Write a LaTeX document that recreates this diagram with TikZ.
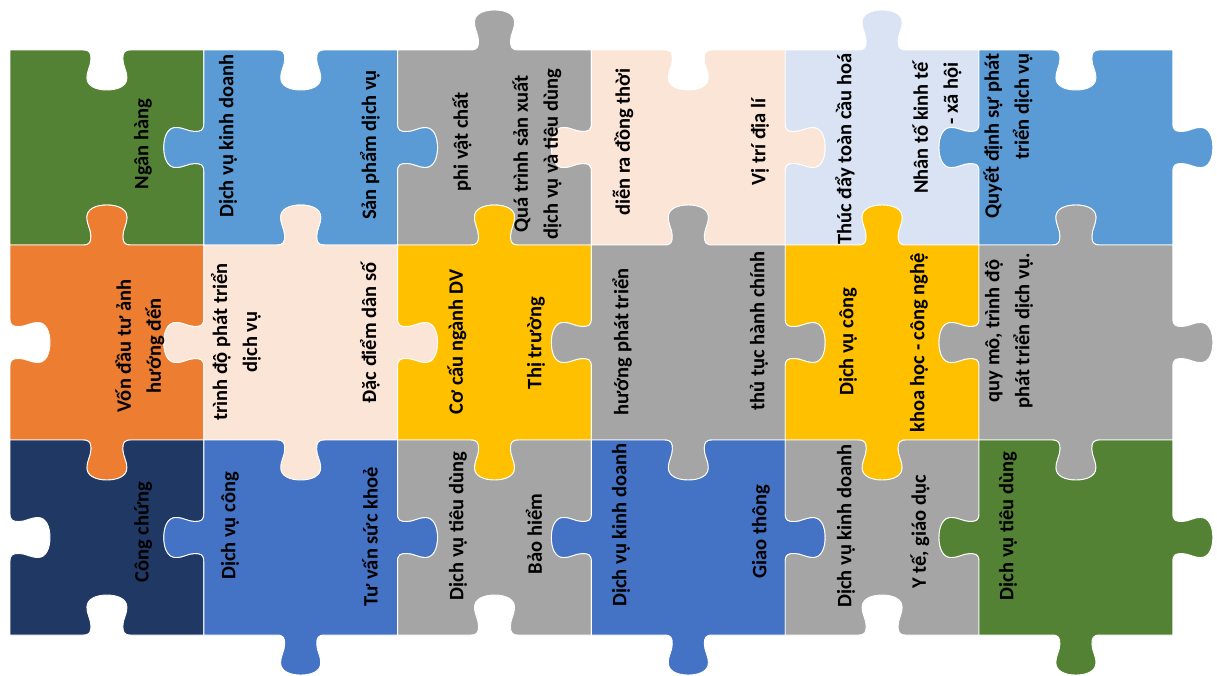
\documentclass[tikz,border=0pt]{standalone}
\usepackage{fontspec}
\setmainfont{Carlito}
\usepackage{tikz}
\usepackage{xcolor}
\definecolor{pzgreen}{HTML}{548235}
\definecolor{pzsky}{HTML}{5B9BD5}
\definecolor{pzgray}{HTML}{A5A5A5}
\definecolor{pzpeach}{HTML}{FBE5D6}
\definecolor{pzpale}{HTML}{DAE3F3}
\definecolor{pzorange}{HTML}{ED7D31}
\definecolor{pzgold}{HTML}{FFC000}
\definecolor{pznavy}{HTML}{203864}
\definecolor{pzblue}{HTML}{4472C4}

% one side of a piece: mid point, tangent, signed normal
\tikzset{
  tab/.style n args={6}{insert path={
    -- ({#1-24*#3},{#2-24*#4})
    .. controls ({#1-17*#3},{#2-17*#4}) and ({#1-16*#3+3*#5},{#2-16*#4+3*#6}) .. ({#1-16*#3+9*#5},{#2-16*#4+9*#6})
    .. controls ({#1-16*#3+16*#5},{#2-16*#4+16*#6}) and ({#1-20*#3+20*#5},{#2-20*#4+20*#6}) .. ({#1-20*#3+28*#5},{#2-20*#4+28*#6})
    .. controls ({#1-20*#3+36*#5},{#2-20*#4+36*#6}) and ({#1-11*#3+40*#5},{#2-11*#4+40*#6}) .. ({#1+40*#5},{#2+40*#6})
    .. controls ({#1+11*#3+40*#5},{#2+11*#4+40*#6}) and ({#1+20*#3+36*#5},{#2+20*#4+36*#6}) .. ({#1+20*#3+28*#5},{#2+20*#4+28*#6})
    .. controls ({#1+20*#3+20*#5},{#2+20*#4+20*#6}) and ({#1+16*#3+16*#5},{#2+16*#4+16*#6}) .. ({#1+16*#3+9*#5},{#2+16*#4+9*#6})
    .. controls ({#1+16*#3+3*#5},{#2+16*#4+3*#6}) and ({#1+17*#3},{#2+17*#4}) .. ({#1+24*#3},{#2+24*#4})
  }}
}

% \piece{colour}{column}{row}{top}{right}{bottom}{left}: 1 knob, -1 hole, 0 flat
\newcommand\piece[7]{%
  \pgfmathsetmacro\pcxa{10+193.8*(#2-1)}%
  \pgfmathsetmacro\pcxb{\pcxa+193.8}%
  \pgfmathsetmacro\pcxm{\pcxa+96.9}%
  \pgfmathsetmacro\pcya{50+195*(#3-1)}%
  \pgfmathsetmacro\pcyb{\pcya+195}%
  \pgfmathsetmacro\pcym{\pcya+97.5}%
  \pgfmathsetmacro\pcst{-1*(#4)}%
  \pgfmathsetmacro\pcsl{-1*(#7)}%
  \path[piece, fill=#1] (\pcxa,\pcya) [tab={\pcxm}{\pcya}{1}{0}{0}{\pcst}]
    -- (\pcxb,\pcya) [tab={\pcxb}{\pcym}{0}{1}{#5}{0}]
    -- (\pcxb,\pcyb) [tab={\pcxm}{\pcyb}{-1}{0}{0}{#6}]
    -- (\pcxa,\pcyb) [tab={\pcxa}{\pcym}{0}{-1}{\pcsl}{0}]
    -- cycle;}

\begin{document}
\begin{tikzpicture}[
        x=1pt, y=-1pt,
        piece/.style = {draw=white, line width=0.9pt},
        lbl/.style   = {rotate=90, align=center, inner sep=0pt, text=black,
                        font=\fontsize{20.5}{30}\selectfont\bfseries},
        lblr/.style  = {lbl, align=right}
    ]
        \useasboundingbox (0,0) rectangle (1217,675);

        % ---- Row 1 ----
        \piece{pzgreen}{1}{1}{-1}{-1}{-1}{0}
        \piece{pzsky}{2}{1}{-1}{1}{-1}{1}
        \piece{pzgray}{3}{1}{1}{-1}{-1}{-1}
        \piece{pzpeach}{4}{1}{-1}{1}{-1}{1}
        \piece{pzpale}{5}{1}{1}{-1}{-1}{-1}
        \piece{pzsky}{6}{1}{-1}{1}{-1}{1}

        % ---- Row 2 ----
        \piece{pzorange}{1}{2}{1}{-1}{1}{-1}
        \piece{pzpeach}{2}{2}{1}{1}{1}{1}
        \piece{pzgold}{3}{2}{1}{-1}{1}{-1}
        \piece{pzgray}{4}{2}{1}{1}{1}{1}
        \piece{pzgold}{5}{2}{1}{-1}{1}{-1}
        \piece{pzgray}{6}{2}{1}{1}{1}{1}

        % ---- Row 3 ----
        \piece{pznavy}{1}{3}{-1}{-1}{-1}{-1}
        \piece{pzblue}{2}{3}{-1}{1}{1}{1}
        \piece{pzgray}{3}{3}{-1}{-1}{-1}{-1}
        \piece{pzblue}{4}{3}{-1}{1}{1}{1}
        \piece{pzgray}{5}{3}{-1}{-1}{-1}{-1}
        \piece{pzgreen}{6}{3}{-1}{1}{1}{1}

        % ---- Labels, row 1 ----
        \node[lbl] (nganhang) at (143,144) {Ngân hàng};
        \node[lbl] (dvkd1) at (228,136) {Dịch vụ kinh doanh};
        \node[lbl] (sanpham) at (370,145) {Sản phẩm dịch vụ};
        \node[lbl] (phivat) at (462,142) {phi vật chất};
        \node[lbl] (quatrinh) at (537,154) {Quá trình sản xuất\\dịch vụ và tiêu dùng};
        \node[lbl] (dienra) at (623,142) {diễn ra đồng thời};
        \node[lbl] (vitri) at (760,142) {Vị trí địa lí};
        \node[lbl] (thucday) at (845,149) {Thúc đẩy toàn cầu hoá};
        \node[lblr] (nhanto) at (937,128) {Nhân tố kinh tế\\- xã hội};
        \node[lblr] (quyetdinh) at (1008,136) {Quyết định sự phát\\triển dịch vụ};

        % ---- Labels, row 2 ----
        \node[lbl] (von) at (140,346) {Vốn đầu tư ảnh\\hướng đến};
        \node[lbl] (trinhdo) at (236,342) {trình độ phát triển\\dịch vụ};
        \node[lbl] (danso) at (370,333) {Đặc điểm dân số};
        \node[lbl] (cocau) at (457,342) {Cơ cấu ngành DV};
        \node[lbl] (thitruong) at (536,343) {Thị trường};
        \node[lbl] (huong) at (622,342) {hướng phát triển};
        \node[lbl] (thutuc) at (759,331) {thủ tục hành chính};
        \node[lbl] (dvcong1) at (848,342) {Dịch vụ công};
        \node[lbl] (khoahoc) at (919,343) {khoa học - công nghệ};
        \node[lbl] (quymo) at (1009,331) {quy mô, trình độ\\phát triển dịch vụ.};

        % ---- Labels, row 3 ----
        \node[lbl] (congchung) at (143,532) {Công chứng};
        \node[lbl] (dvcong2) at (230,526) {Dịch vụ công};
        \node[lbl] (tuvan) at (370,537) {Tư vấn sức khoẻ};
        \node[lbl] (dvtd1) at (458,526) {Dịch vụ tiêu dùng};
        \node[lbl] (baohiem) at (534,534) {Bảo hiểm};
        \node[lbl] (dvkd2) at (621,525) {Dịch vụ kinh doanh};
        \node[lbl] (giaothong) at (761,532) {Giao thông};
        \node[lbl] (dvkd3) at (846,526) {Dịch vụ kinh doanh};
        \node[lbl] (yte) at (920,532) {Y tế, giáo dục};
        \node[lbl] (dvtd2) at (1008,526) {Dịch vụ tiêu dùng};
    \end{tikzpicture}
\end{document}
